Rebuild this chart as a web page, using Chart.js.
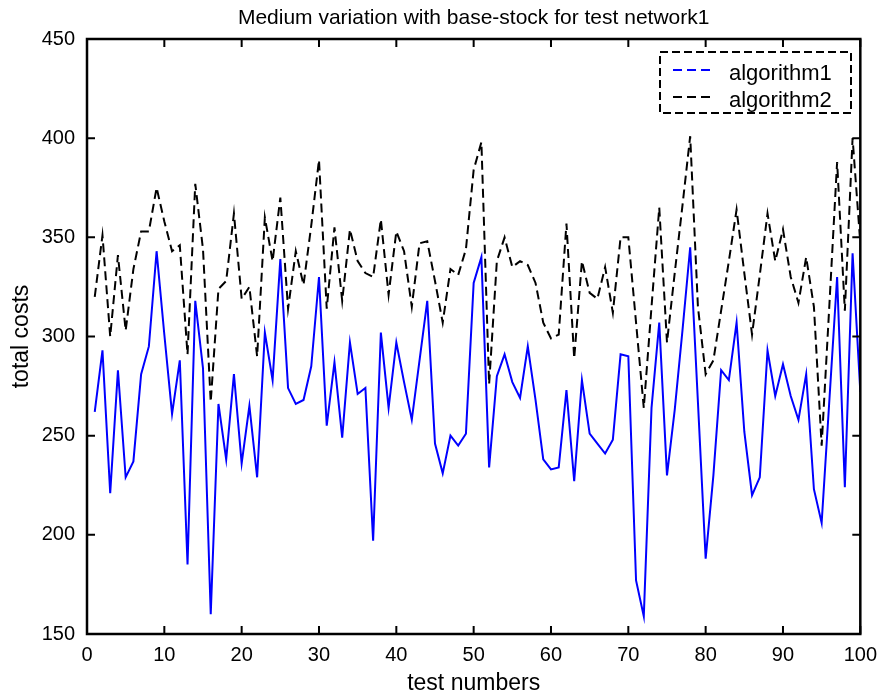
<!DOCTYPE html>
<html>
<head>
<meta charset="utf-8">
<script src="https://cdn.jsdelivr.net/npm/chart.js@4.4.1/dist/chart.umd.min.js"></script>
<style>
  html, body { margin: 0; padding: 0; background: #fff; }
  #wrap { width: 886px; height: 697px; }
</style>
</head>
<body>
<div id="wrap"><canvas id="costChart"></canvas></div>
<script>
// test number of each run (1..100)
const testNumbers = Array.from({ length: 100 }, (_, i) => i + 1);

const algorithm1 = [
    262, 293, 221, 283, 229, 237, 281, 295, 343, 301,
    261, 288, 185, 318, 284, 160, 266, 238, 281, 236,
    265, 229, 302, 278, 339, 274, 266, 268, 285, 330,
    255, 287, 249, 297, 271, 274, 197, 302, 264, 297,
    277, 258, 288, 318, 246, 231, 250, 245, 251, 327,
    340, 234, 280, 291, 277, 269, 295, 268, 238, 233,
    234, 273, 227, 278, 251, 246, 241, 248, 291, 290,
    177, 159, 264, 307, 230, 263, 303, 345, 267, 188,
    230, 283, 278, 307, 252, 220, 229, 293, 270, 286,
    270, 258, 281, 223, 206, 268, 330, 224, 342, 272
];

const algorithm2 = [
    320, 351, 300, 341, 303, 334, 353, 353, 375, 358,
    343, 346, 291, 377, 344, 267, 324, 328, 362, 319,
    325, 290, 360, 338, 370, 314, 343, 326, 356, 389,
    314, 355, 318, 354, 338, 332, 330, 359, 321, 353,
    343, 315, 347, 348, 328, 307, 334, 331, 344, 384,
    398, 276, 338, 350, 335, 338, 336, 327, 307, 299,
    301, 357, 289, 338, 322, 319, 335, 312, 350, 350,
    307, 264, 315, 365, 297, 332, 366, 401, 315, 281,
    288, 313, 338, 364, 332, 301, 331, 362, 338, 354,
    330, 317, 340, 315, 245, 316, 388, 313, 400, 347
];

const xTicks = [0, 10, 20, 30, 40, 50, 60, 70, 80, 90, 100];
const yTicks = [150, 200, 250, 300, 350, 400, 450];

const chartTitle = 'Medium variation with base-stock for test network1';

const FONT = "'Liberation Sans', Arial, sans-serif";

// title centred over the plot box, not the whole canvas
const plotTitle = {
    id: 'plotTitle',
    afterDraw(chart) {
        const { ctx, chartArea: a } = chart;
        ctx.save();
        ctx.fillStyle = '#000';
        ctx.font = '21px ' + FONT;
        ctx.textAlign = 'center';
        ctx.textBaseline = 'middle';
        ctx.fillText(chartTitle, (a.left + a.right) / 2, 18);
        ctx.restore();
    }
};

// box round the plot with inward tick marks on all four sides
const frameBox = {
    id: 'frameBox',
    afterDatasetsDraw(chart) {
        const { ctx, chartArea: a } = chart;
        const xs = chart.scales.x, ys = chart.scales.y;
        const len = 8;
        ctx.save();
        ctx.strokeStyle = '#000';
        ctx.lineWidth = 2;
        ctx.beginPath();
        xs.ticks.forEach(t => {
            const px = xs.getPixelForValue(t.value);
            ctx.moveTo(px, a.bottom); ctx.lineTo(px, a.bottom - len);
            ctx.moveTo(px, a.top); ctx.lineTo(px, a.top + len);
        });
        ys.ticks.forEach(t => {
            const py = ys.getPixelForValue(t.value);
            ctx.moveTo(a.left, py); ctx.lineTo(a.left + len, py);
            ctx.moveTo(a.right, py); ctx.lineTo(a.right - len, py);
        });
        ctx.stroke();
        ctx.lineWidth = 2.5;
        ctx.strokeRect(a.left, a.top, a.right - a.left, a.bottom - a.top);
        ctx.restore();
    }
};

// legend in a dashed box, top right
const boxLegend = {
    id: 'boxLegend',
    afterDraw(chart) {
        const ctx = chart.ctx;
        const bx = 660, by = 52, bw = 191, bh = 61;
        ctx.save();
        ctx.fillStyle = '#fff';
        ctx.fillRect(bx, by, bw, bh);
        ctx.strokeStyle = '#000';
        ctx.lineWidth = 2;
        ctx.setLineDash([8, 4]);
        ctx.strokeRect(bx, by, bw, bh);
        const rows = [70, 97];
        chart.data.datasets.forEach((ds, i) => {
            ctx.strokeStyle = ds.borderColor;
            ctx.lineWidth = 2;
            ctx.setLineDash([9, 5]);
            ctx.beginPath();
            ctx.moveTo(673, rows[i]);
            ctx.lineTo(714, rows[i]);
            ctx.stroke();
            ctx.setLineDash([]);
            ctx.fillStyle = '#000';
            ctx.font = '22px ' + FONT;
            ctx.textBaseline = 'middle';
            ctx.textAlign = 'left';
            ctx.fillText(ds.label, 729, rows[i] + 4);
        });
        ctx.restore();
    }
};

Chart.defaults.font.family = FONT;
Chart.defaults.color = '#000';

new Chart(document.getElementById('costChart').getContext('2d'), {
    type: 'line',
    data: {
        datasets: [
            {
                label: 'algorithm1',
                data: testNumbers.map((n, i) => ({ x: n, y: algorithm1[i] })),
                borderColor: '#0000ff',
                borderWidth: 2,
                pointRadius: 0,
                tension: 0,
                fill: false
            },
            {
                label: 'algorithm2',
                data: testNumbers.map((n, i) => ({ x: n, y: algorithm2[i] })),
                borderColor: '#000000',
                borderWidth: 2,
                borderDash: [9, 5],
                pointRadius: 0,
                tension: 0,
                fill: false
            }
        ]
    },
    options: {
        responsive: true,
        maintainAspectRatio: false,
        animation: false,
        layout: { padding: { left: 0, right: 20, top: 39, bottom: 0 } },
        plugins: {
            legend: { display: false },
            tooltip: { enabled: false },
            title: { display: false }
        },
        scales: {
            x: {
                type: 'linear',
                min: 0,
                max: 100,
                afterBuildTicks: s => { s.ticks = xTicks.map(v => ({ value: v })); },
                afterFit: s => { s.height = 63; },
                grid: { display: false, drawTicks: false },
                border: { display: false },
                ticks: { font: { size: 20 }, padding: 9, maxRotation: 0 },
                title: {
                    display: true,
                    text: 'test numbers',
                    font: { size: 23 },
                    padding: { top: 0, bottom: 0 }
                }
            },
            y: {
                min: 150,
                max: 450,
                afterBuildTicks: s => { s.ticks = yTicks.map(v => ({ value: v })); },
                afterFit: s => { s.width = 87; },
                grid: { display: false, drawTicks: false },
                border: { display: false },
                ticks: { font: { size: 20 }, padding: 12 },
                title: {
                    display: true,
                    text: 'total costs',
                    font: { size: 23 },
                    padding: { top: 8, bottom: 0 }
                }
            }
        }
    },
    plugins: [frameBox, boxLegend, plotTitle]
});
</script>
</body>
</html>
